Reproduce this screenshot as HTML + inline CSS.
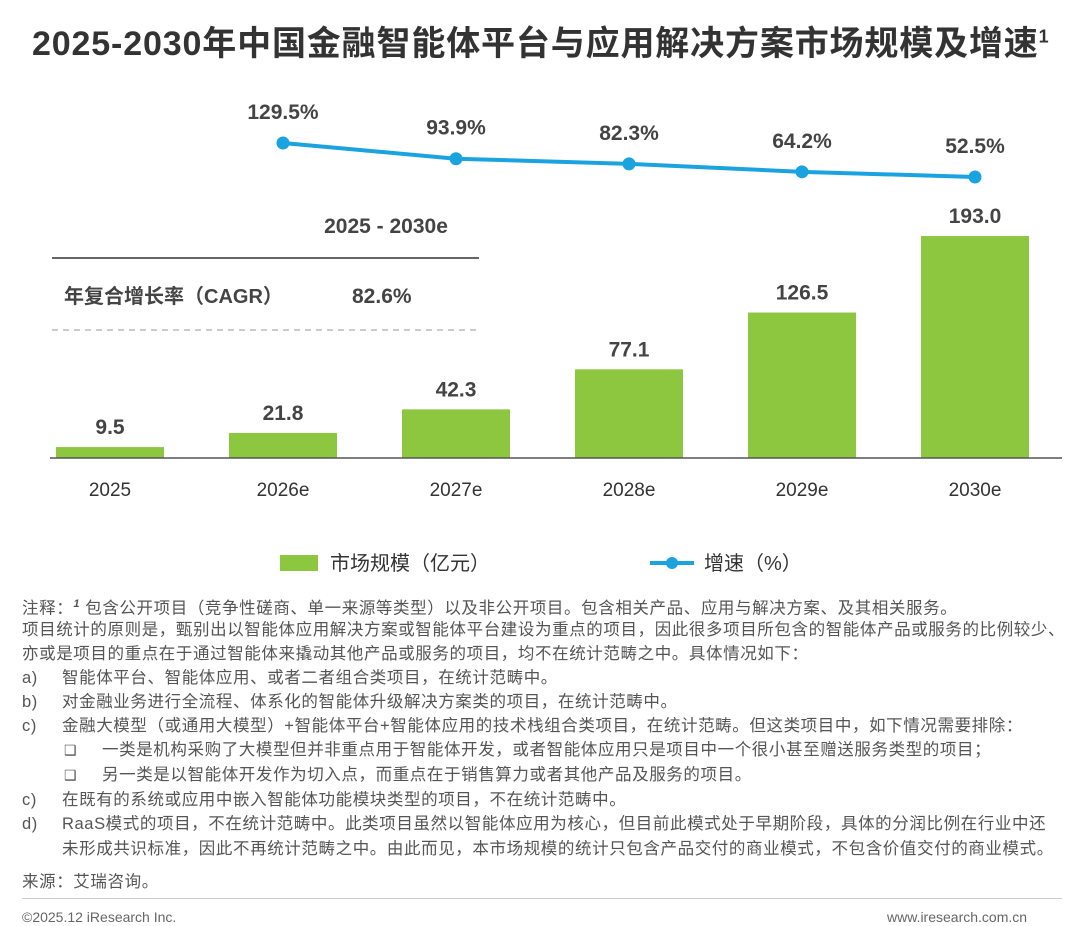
<!DOCTYPE html>
<html><head><meta charset="utf-8">
<style>
body{margin:0;background:#fff;}
#root{position:relative;width:1080px;height:926px;overflow:hidden;font-family:"Liberation Sans","Noto Sans CJK SC",sans-serif;color:#333;}
.t{position:absolute;white-space:nowrap;}
.note{position:absolute;left:22px;font-size:16.5px;line-height:20px;letter-spacing:0.6px;color:#555;white-space:nowrap;}
.ind{left:62px;}
.ind2{left:102px;}
</style></head><body>
<div id="root">
<div class="t" style="left:32px;top:16px;font-size:34px;font-weight:bold;color:#333;letter-spacing:0.85px;">2025-2030年中国金融智能体平台与应用解决方案市场规模及增速<sup style="font-size:18px;">1</sup></div>
<svg id="chart" width="1080" height="600" style="position:absolute;left:0;top:0">
<line x1="52" y1="258" x2="479" y2="258" stroke="#666" stroke-width="2"/>
<line x1="52" y1="330" x2="479" y2="330" stroke="#bbb" stroke-width="1.5" stroke-dasharray="6,5"/>
<text x="386" y="233" text-anchor="middle" font-size="21" font-weight="bold" fill="#444">2025 - 2030e</text>
<text x="64" y="303" font-size="20" font-weight="bold" fill="#444">年复合增长率（CAGR）</text>
<text x="352" y="303" font-size="21" font-weight="bold" fill="#444">82.6%</text>
<g id="bars"></g>
<line x1="50" y1="458" x2="1062" y2="458" stroke="#555" stroke-width="1.5"/>
<g id="line"></g>
<rect x="280" y="555" width="38" height="16" fill="#8DC63F"/>
<text x="330" y="570" font-size="20" fill="#333">市场规模（亿元）</text>
<line x1="650" y1="563" x2="694" y2="563" stroke="#1BA3E0" stroke-width="4"/>
<circle cx="672" cy="563" r="6" fill="#1BA3E0"/>
<text x="704" y="570" font-size="20" fill="#333">增速（%）</text>
</svg>
<div class="note" style="top:594px">注释：<sup style="font-style:italic;font-weight:bold;font-size:11px">1</sup> 包含公开项目（竞争性磋商、单一来源等类型）以及非公开项目。包含相关产品、应用与解决方案、及其相关服务。</div>
<div class="note" style="top:620px">项目统计的原则是，甄别出以智能体应用解决方案或智能体平台建设为重点的项目，因此很多项目所包含的智能体产品或服务的比例较少、</div>
<div class="note" style="top:644px">亦或是项目的重点在于通过智能体来撬动其他产品或服务的项目，均不在统计范畴之中。具体情况如下：</div>
<div class="note" style="top:668px">a)</div><div class="note ind" style="top:668px">智能体平台、智能体应用、或者二者组合类项目，在统计范畴中。</div>
<div class="note" style="top:692px">b)</div><div class="note ind" style="top:692px">对金融业务进行全流程、体系化的智能体升级解决方案类的项目，在统计范畴中。</div>
<div class="note" style="top:716px">c)</div><div class="note ind" style="top:716px">金融大模型（或通用大模型）+智能体平台+智能体应用的技术栈组合类项目，在统计范畴。但这类项目中，如下情况需要排除：</div>
<div class="note" style="top:740px;left:64px;font-size:14px">❑</div><div class="note ind2" style="top:740px">一类是机构采购了大模型但并非重点用于智能体开发，或者智能体应用只是项目中一个很小甚至赠送服务类型的项目；</div>
<div class="note" style="top:765px;left:64px;font-size:14px">❑</div><div class="note ind2" style="top:765px">另一类是以智能体开发作为切入点，而重点在于销售算力或者其他产品及服务的项目。</div>
<div class="note" style="top:790px">c)</div><div class="note ind" style="top:790px">在既有的系统或应用中嵌入智能体功能模块类型的项目，不在统计范畴中。</div>
<div class="note" style="top:814px">d)</div><div class="note ind" style="top:814px">RaaS模式的项目，不在统计范畴中。此类项目虽然以智能体应用为核心，但目前此模式处于早期阶段，具体的分润比例在行业中还</div>
<div class="note ind" style="top:839px">未形成共识标准，因此不再统计范畴之中。由此而见，本市场规模的统计只包含产品交付的商业模式，不包含价值交付的商业模式。</div>
<div class="note" style="top:872px">来源：艾瑞咨询。</div>
<div style="position:absolute;left:22px;top:898px;width:1040px;height:1px;background:#ccc"></div>
<div class="note" style="top:907px;font-size:14px;letter-spacing:0;color:#666">©2025.12 iResearch Inc.</div>
<div class="note" style="top:907px;left:887px;font-size:14px;letter-spacing:0;color:#666">www.iresearch.com.cn</div>
</div>
<script>
const categories=["2025","2026e","2027e","2028e","2029e","2030e"];
const marketSize=[9.5,21.8,42.3,77.1,126.5,193.0];
const growth=[null,129.5,93.9,82.3,64.2,52.5];
const NS="http://www.w3.org/2000/svg";
const xC=i=>110+i*173;
const yBar=v=>458-v*1.15;
const yG=v=>143+(129.5-v)*0.4416;
function mk(tag,attrs,parent){const e=document.createElementNS(NS,tag);for(const k in attrs)e.setAttribute(k,attrs[k]);parent.appendChild(e);return e;}
const bars=document.getElementById('bars');
categories.forEach((c,i)=>{
 const v=marketSize[i];
 const r=mk('rect',{x:xC(i)-54,y:yBar(v),width:108,height:458-yBar(v),fill:'#8DC63F'},bars);
 
 
 const t=mk('text',{x:xC(i),y:yBar(v)-13,'text-anchor':'middle','font-size':21,'font-weight':'bold',fill:'#444'},bars);
 t.textContent=v.toFixed(1);
 
 
 const l=mk('text',{x:xC(i),y:496,'text-anchor':'middle','font-size':19,fill:'#333'},bars);
 l.textContent=c;
 
 
});
const lg=document.getElementById('line');
const pts=[];growth.forEach((g,i)=>{if(g!=null)pts.push([xC(i),yG(g),g]);});
const p=mk('polyline',{points:pts.map(q=>q[0]+','+q[1]).join(' '),fill:'none',stroke:'#1BA3E0','stroke-width':4},lg);


pts.forEach(q=>{
 const c=mk('circle',{cx:q[0],cy:q[1],r:6.5,fill:'#1BA3E0'},lg);
 
 
 const t=mk('text',{x:q[0],y:q[1]-24,'text-anchor':'middle','font-size':21,'font-weight':'bold',fill:'#444'},lg);
 t.textContent=q[2].toFixed(1)+'%';
 
 
});
</script>
</body></html>
